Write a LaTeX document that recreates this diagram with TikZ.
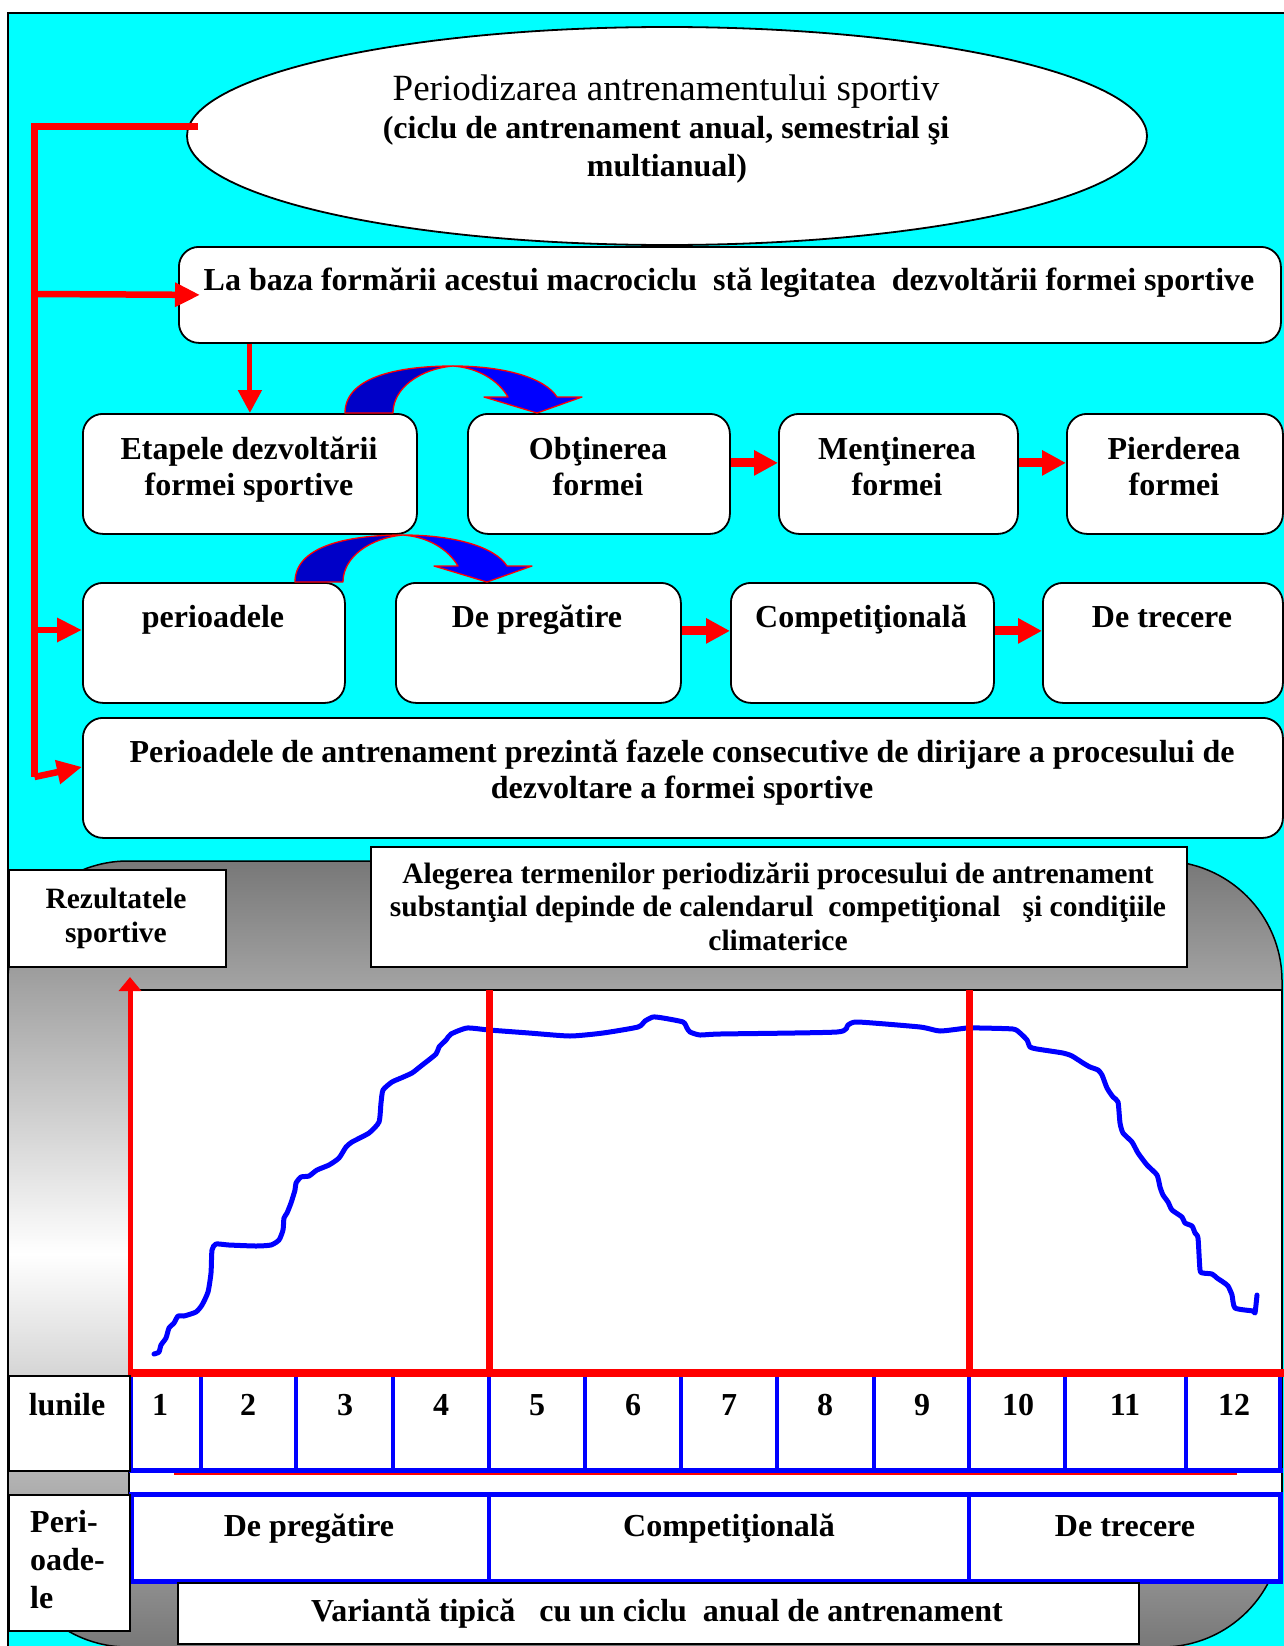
\documentclass[tikz,border=0pt]{standalone}
\usepackage{fontspec}
\setmainfont{Liberation Serif}
\usetikzlibrary{shapes.geometric,arrows.meta,calc}
\definecolor{cy}{RGB}{0,255,255}
\definecolor{dkblue}{RGB}{0,0,200}
\newcommand\mycurvedarrow{%
 \filldraw[fill=dkblue, draw=red, line width=1.3pt, line join=round]
   (345,413) .. controls (345,378) and (395,366) .. (453,366)
   .. controls (420,369) and (393,388) .. (393,413) -- cycle;
 \filldraw[fill=blue, draw=red, line width=1.3pt, line join=round]
   (453,366) .. controls (505,366) and (545,378) .. (557,397) -- (582,397) -- (537,413) -- (484,397) -- (508,397)
   .. controls (498,380) and (478,368) .. (453,366) -- cycle;
}
\begin{document}
\begin{tikzpicture}[x=1pt,y=-1pt,
 T/.style={anchor=base, inner sep=0pt, font=\bfseries\fontsize{32}{37}\selectfont},
 Ts/.style={anchor=base, inner sep=0pt, font=\bfseries\fontsize{29.5}{34}\selectfont},
 Tl/.style={anchor=base west, inner sep=0pt, font=\bfseries\fontsize{32}{37}\selectfont},
 rbox/.style={draw=black, line width=1.8pt, fill=white, rounded corners=20pt, inner sep=0pt, anchor=north west},
 sbox/.style={draw=black, line width=1.8pt, fill=white, inner sep=0pt, anchor=north west},
 redarr/.style={draw=red, line width=9pt, -{Triangle[length=24pt,width=24pt]}},
 redthin/.style={draw=red, line width=6.5pt, -{Triangle[length=25pt,width=23pt]}},
 gridb/.style={draw=blue, line width=4pt},
]
\useasboundingbox (0,0) rectangle (1284,1646);
\clip (0,0) rectangle (1284,1646);
% background frame
\fill[white] (0,0) rectangle (1284,1646);
\draw[fill=cy, line width=1.8pt] (8,13) rectangle (1300,1680);

% ellipse
\node[ellipse, draw=black, line width=1.8pt, fill=white, minimum width=960pt, minimum height=218pt, inner sep=0pt] (ell) at (667,136) {};
\node[anchor=base, inner sep=0pt, font=\fontsize{37}{42}\selectfont] (t-ell1) at (666,100) {Periodizarea antrenamentului sportiv};
\node[T] (t-ell2) at (666,138) {(ciclu de antrenament anual, semestrial şi};
\node[T] (t-ell3) at (667,176) {multianual)};

% boxes
\node[rbox, minimum width=1102pt, minimum height=96pt] (lab) at (178,246) {};
\node[T] (t-lab) at (729,290) {La baza formării acestui macrociclu~ stă legitatea~ dezvoltării formei sportive};

\node[rbox, minimum width=334pt, minimum height=120pt] (et) at (82,413) {};
\node[rbox, minimum width=262pt, minimum height=120pt] (ob) at (467,413) {};
\node[rbox, minimum width=239pt, minimum height=120pt] (me) at (778,413) {};
\node[rbox, minimum width=216pt, minimum height=120pt] (pi) at (1066,413) {};
\node[T] (t-et1) at (249,459) {Etapele dezvoltării};
\node[T] (t-et2) at (249,495) {formei sportive};
\node[T] (t-ob1) at (598,459) {Obţinerea};
\node[T] (t-ob2) at (598,495) {formei};
\node[T] (t-me1) at (897,459) {Menţinerea};
\node[T] (t-me2) at (897,495) {formei};
\node[T] (t-pi1) at (1174,459) {Pierderea};
\node[T] (t-pi2) at (1174,495) {formei};

\node[rbox, minimum width=262pt, minimum height=120pt] (pe) at (82,582) {};
\node[rbox, minimum width=285pt, minimum height=120pt] (dp) at (395,582) {};
\node[rbox, minimum width=263pt, minimum height=120pt] (co) at (730,582) {};
\node[rbox, minimum width=240pt, minimum height=120pt] (dt) at (1042,582) {};
\node[T] (t-pe) at (213,627) {perioadele};
\node[T] (t-dp) at (537,627) {De pregătire};
\node[T] (t-co) at (861,627) {Competiţională};
\node[T] (t-dt) at (1162,627) {De trecere};

\node[rbox, minimum width=1200pt, minimum height=120pt] (pf) at (82,717) {};
\node[T] (t-pf1) at (682,762) {Perioadele de antrenament prezintă fazele consecutive de dirijare a procesului de};
\node[T] (t-pf2) at (682,798) {dezvoltare a formei sportive};

% red spine and connectors
\coordinate (spT) at (34.5,126);
\coordinate (spB) at (34.5,777);
\coordinate (s1) at (34.5,294);
\coordinate (s2) at (34.5,630);
\draw[red, line width=7pt] ($(ell.west)+(12,-10)$) -- (spT) -- (spB);
\draw[redthin] (s1) -- ($(lab.west)+(22,0)$);
\draw[redthin] (s2) -- (pe.west |- s2);
\draw[redthin] (spB) -- ($(pf.west)+(0,-11)$);
\draw[draw=red, line width=5pt, -{Triangle[length=23pt,width=23pt]}] (lab.south -| et.north) -- (et.north);
\draw[redarr] ($(ob.east)+(0,-11)$) -- ($(me.west)+(0,-11)$);
\draw[redarr] ($(me.east)+(0,-11)$) -- ($(pi.west)+(0,-11)$);
\draw[redarr] ($(dp.east)+(0,-12)$) -- ($(co.west)+(0,-12)$);
\draw[redarr] ($(co.east)+(0,-12)$) -- ($(dt.west)+(0,-12)$);

% curved arrows
\mycurvedarrow
\begin{scope}[shift={(-50,169)}]
\mycurvedarrow
\end{scope}

% grey band
\draw[line width=1.5pt, top color=black!53, bottom color=black!53, middle color=white, rounded corners=120pt] (8,861) rectangle (1282,1647);

% white chart block
\draw[fill=white, line width=1.5pt] (129,990) rectangle (1282,1581);

% curve
\draw[blue, line width=5pt, line join=round, line cap=round] plot[smooth, tension=0.35] coordinates {
(154,1354) (159,1352) (161,1345) (166,1338) (169,1328) (174,1323) (178,1316) (184,1316) (196,1312) (202,1305) (208,1292) (211,1273) (212,1250) (216,1244) (229,1245) (256,1246) (271,1245) (279,1240) (283,1230) (284,1218) (287,1213) (291,1203) (295,1190) (296,1183) (301,1177) (309,1176) (317,1170) (329,1165) (339,1158) (346,1147) (352,1142) (369,1133) (379,1122) (381,1103) (383,1090) (392,1082) (401,1078) (412,1073) (421,1066) (436,1054) (439,1047) (446,1040) (451,1034) (467,1028) (489,1030) (529,1033) (570,1036) (603,1033) (638,1027) (645,1021) (653,1017) (663,1018) (683,1022) (687,1028) (690,1032) (700,1035) (720,1034) (837,1032) (848,1025) (858,1022) (920,1027) (940,1031) (967,1028) (980,1028) (1013,1029) (1020,1033) (1027,1040) (1030,1047) (1037,1049) (1063,1053) (1072,1056) (1083,1063) (1090,1067) (1098,1070) (1102,1075) (1107,1088) (1113,1097) (1118,1102) (1120,1123) (1123,1133) (1132,1142) (1138,1153) (1147,1165) (1157,1175) (1160,1187) (1163,1195) (1168,1202) (1172,1210) (1182,1217) (1185,1223) (1192,1226) (1195,1233) (1198,1238) (1200,1270) (1203,1273) (1212,1274) (1217,1278) (1223,1282) (1228,1286) (1232,1295) (1235,1308) (1253,1311) (1255,1313) (1257,1295)};

% red lines
\draw[red, line width=7pt] (489,990) -- (489,1374);
\draw[red, line width=7pt] (969,990) -- (969,1374);

% months grid
\foreach \x in {201,296,393,489,585,681,777,874,969,1065,1186}
  \draw[gridb] (\x,1374) -- (\x,1470);
\draw[gridb] (131,1374) -- (131,1470);
\draw[gridb] (1280,1374) -- (1280,1470);
\draw[blue, line width=5pt] (129,1470) -- (1283,1470);
\draw[red, line width=1.5pt] (174,1474) -- (1237,1474);
% periods grid
\draw[blue, line width=5pt] (131,1494) rectangle (1280,1581);
\draw[gridb] (489,1494) -- (489,1581);
\draw[gridb] (969,1494) -- (969,1581);

% axes
\coordinate (orig) at (130,1377);
\coordinate (ytip) at (130,977);
\coordinate (xend) at (1290,1373);
\draw[red, line width=8pt] (129,1373) -- (xend);
\draw[red, line width=5pt, -{Triangle[length=14pt,width=22pt]}] (orig) -- (ytip);

% month labels
\node[sbox, minimum width=121pt, minimum height=95pt] (lun) at (8,1375) {};
\node[T] (t-lun) at (67,1415) {lunile};
\foreach \n/\x in {1/160,2/248,3/345,4/441,5/537,6/633,7/729,8/825,9/922,10/1018,11/1125,12/1234}
  \node[T] (m\n) at (\x,1415) {\n};

\node[T] (t-pdp) at (309,1536) {De pregătire};
\node[T] (t-pco) at (729,1536) {Competiţională};
\node[T] (t-pdt) at (1125,1536) {De trecere};

\node[sbox, minimum width=121pt, minimum height=136pt] (per) at (8,1494) {};
\node[Tl] (t-per1) at (30,1532) {Peri-};
\node[Tl] (t-per2) at (30,1570) {oade-};
\node[Tl] (t-per3) at (30,1608) {le};

\node[sbox, minimum width=961pt, minimum height=61pt] (var) at (177,1582) {};
\node[T] (t-var) at (657,1621) {Variantă tipică~~ cu un ciclu~ anual de antrenament};

% top boxes over grey band
\node[sbox, minimum width=217pt, minimum height=97pt] (rez) at (8,869) {};
\node[Ts] (t-rez1) at (116,908) {Rezultatele};
\node[Ts] (t-rez2) at (116,942) {sportive};
\node[sbox, minimum width=816pt, minimum height=120pt] (ale) at (370,846) {};
\node[Ts] (t-ale1) at (778,883) {Alegerea termenilor periodizării procesului de antrenament};
\node[Ts] (t-ale2) at (778,916) {substanţial depinde de calendarul~ competiţional~~ şi condiţiile};
\node[Ts] (t-ale3) at (778,950) {climaterice};
\end{tikzpicture}
\end{document}
